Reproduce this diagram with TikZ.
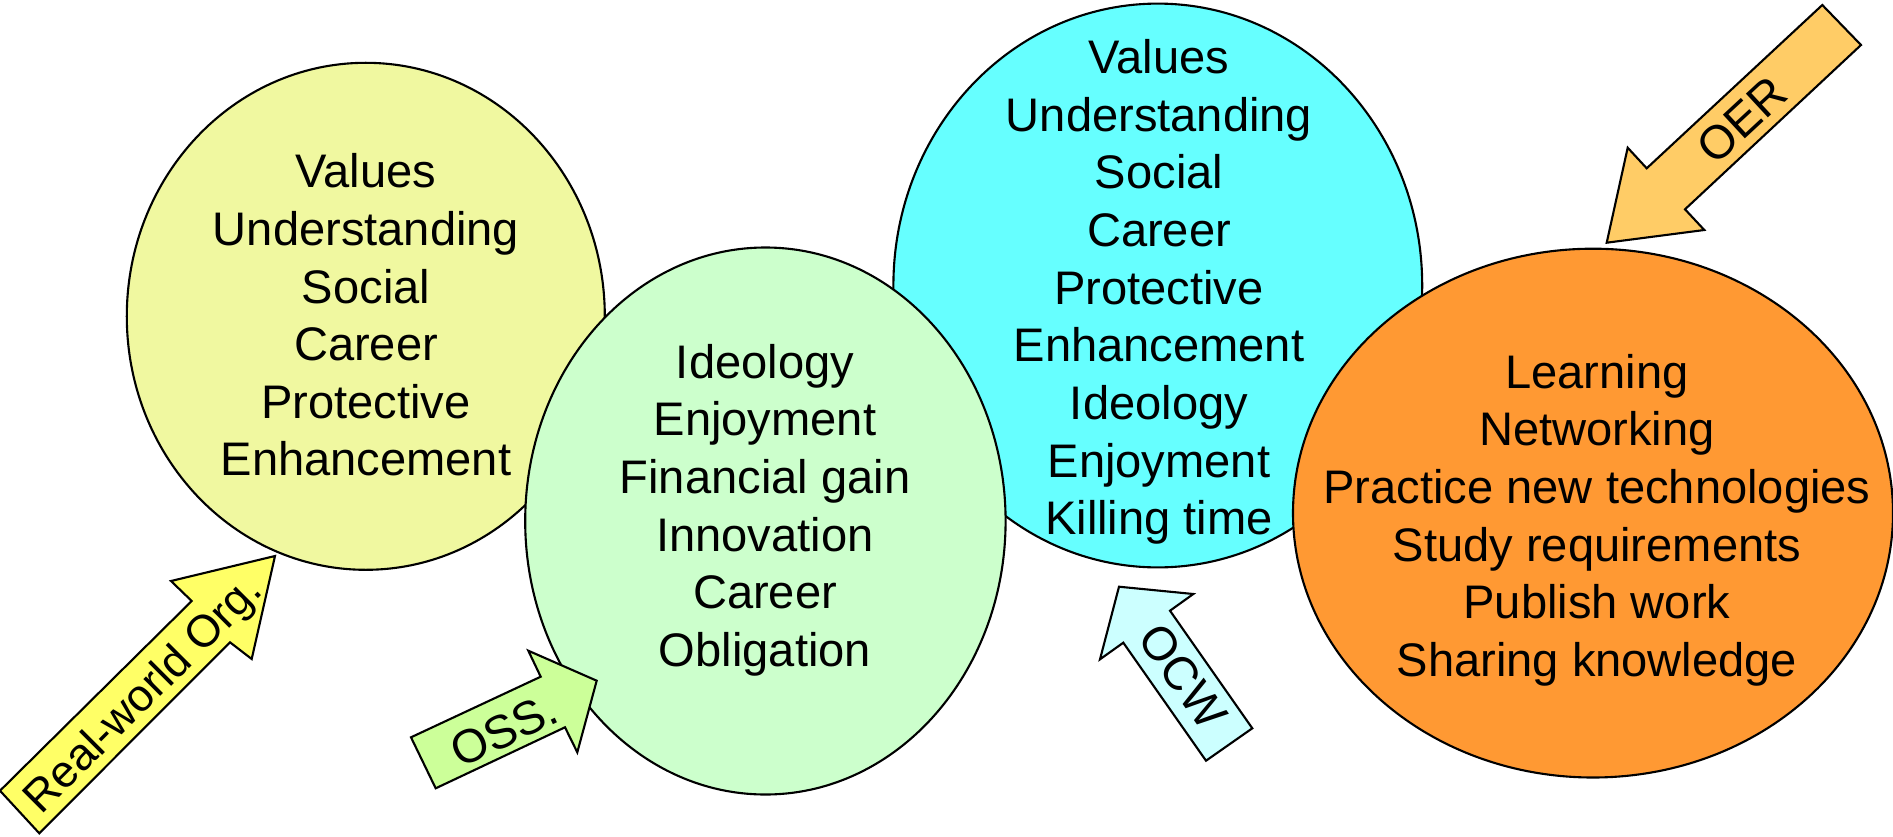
\documentclass[tikz,border=0pt]{standalone}
\usepackage{fontspec}
\setmainfont{Liberation Sans}

\definecolor{yelblob}{HTML}{F0F8A0}
\definecolor{greenblob}{HTML}{CCFFCC}
\definecolor{cyanblob}{HTML}{66FFFF}
\definecolor{orangeblob}{HTML}{FF9933}
\definecolor{yelarrow}{HTML}{FFFF66}
\definecolor{greenarrow}{HTML}{CCFF99}
\definecolor{cyanarrow}{HTML}{CCFFFF}
\definecolor{orangearrow}{HTML}{FFCC66}

\tikzstyle{every node}=[font=\fontsize{13.4pt}{16.4pt}\selectfont,align=center,inner sep=0pt]
\tikzstyle{blob}=[draw=black,line width=0.6pt]

\begin{document}
\begin{tikzpicture}
        \useasboundingbox (0,0) rectangle (18.93,8.36);
        %% The motive groups, back to front
        \draw[blob,fill=yelblob](3.658,5.197) ellipse(2.39cm and 2.535cm);
        \draw[blob,fill=cyanblob](11.578,5.505) ellipse(2.644cm and 2.819cm);
        \draw[blob,fill=greenblob](7.654,3.15) ellipse(2.402cm and 2.735cm);
        \draw[blob,fill=orangeblob](15.93,3.229) ellipse(3cm and 2.644cm);

        %%% What is listed inside them
        \node (realmotives) at (3.66,5.21)
            {Values\\Understanding\\Social\\Career\\Protective\\Enhancement};
        \node (ossmotives) at (7.65,3.26)
            {Ideology\\Enjoyment\\Financial gain\\Innovation\\Career\\Obligation};
        \node (ocwmotives) at (11.59,5.44)
            {Values\\Understanding\\Social\\Career\\Protective\\Enhancement\\Ideology\\Enjoyment\\Killing time};
        \node (oermotives) at (15.97,3.16)
            {Learning\\Networking\\Practice new technologies\\Study requirements\\Publish work\\Sharing knowledge};

        %% Block arrows pointing at the groups
        \draw[blob,fill=yelarrow](2.75,2.80)--(2.517,1.77)--(2.30,1.937)--(0.393,0.027)
            --(0,0.453)--(1.917,2.35)--(1.71,2.55)--cycle;
        \node[rotate=45,font=\fontsize{12.8pt}{15pt}\selectfont] (realworld) at (1.45,1.40) {Real-world Org.};

        \draw[blob,fill=greenarrow](5.967,1.553)--(5.773,0.837)--(5.65,1.087)--(4.357,0.477)
            --(4.11,0.987)--(5.407,1.593)--(5.283,1.853)--cycle;
        \node[rotate=25.3] (oss) at (5.04,1.06) {OSS.};

        \draw[blob,fill=cyanarrow](11.19,2.493)--(11.933,2.42)--(11.70,2.253)--(12.523,1.077)
            --(12.06,0.753)--(11.233,1.933)--(11.00,1.767)--cycle;
        \node[rotate=-55] (ocw) at (11.83,1.60) {OCW};

        \draw[blob,fill=orangearrow](16.067,5.933)--(17.043,6.06)--(16.85,6.267)--(18.61,7.91)
            --(18.223,8.31)--(16.467,6.677)--(16.277,6.883)--cycle;
        \node[rotate=42.8] (oer) at (17.42,7.16) {OER};
\end{tikzpicture}
\end{document}
